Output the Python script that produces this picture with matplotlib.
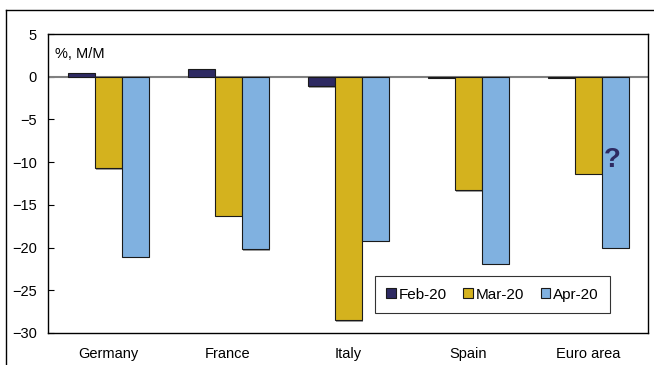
import numpy as np
import matplotlib.pyplot as plt
import matplotlib.patheffects as pe
from matplotlib.lines import Line2D

plt.rcParams['font.family'] = ['Liberation Sans', 'DejaVu Sans']

# datos
paises = ["Germany", "France", "Italy", "Spain", "Euro area"]
feb20 = [0.4, 0.9, -1.1, -0.1, -0.1]
mar20 = [-10.7, -16.3, -28.5, -13.3, -11.4]
abr20 = [-21.1, -20.2, -19.2, -21.9, -20.0]
series = ["Feb-20", "Mar-20", "Apr-20"]
colores = ["#2E2A62", "#D4B21E", "#80B1E0"]

fig = plt.figure(figsize=(6.54, 3.65), dpi=100)
ax = fig.add_axes([48/654, 1-333/365, 600/654, 299/365])

x = np.arange(len(paises))
w = 0.225
sombra = [pe.SimplePatchShadow(offset=(1, -1), shadow_rgbFace="#888888", alpha=0.8), pe.Normal()]
for i, (vals, c, lab) in enumerate(zip([feb20, mar20, abr20], colores, series)):
    b = ax.bar(x + (i-1)*w, vals, w, color=c, edgecolor="#1a1a1a", linewidth=0.8, label=lab, zorder=3)
    for r in b:
        r.set_path_effects(sombra)

ax.axhline(0, color="#808080", linewidth=1.5, zorder=2)

ax.set_xlim(-0.5, 4.5)
ax.set_ylim(-30, 5)
ax.set_yticks(np.arange(-30, 6, 5))
ax.set_xticks(x)
ax.set_xticklabels(paises, fontsize=10.5)
ax.tick_params(axis='x', length=0, pad=10)
ax.tick_params(axis='y', direction='in', length=4, labelsize=10.5, pad=8)
for s in ax.spines.values():
    s.set_color("black")
    s.set_linewidth(1)

ax.text(0.012, 0.955, "%, M/M", transform=ax.transAxes, fontsize=10.5, va='top')
ax.text(4.2, -9.75, "?", fontsize=20, fontweight='bold', family=['Liberation Sans'],
        color="#2E2A62", ha='center', va='center', zorder=5)

leg = ax.legend(loc='lower right', bbox_to_anchor=(0.937, 0.067), borderaxespad=0, ncol=3, fontsize=11,
                frameon=True, fancybox=False, edgecolor="black", handlelength=0.6, handleheight=0.6,
                handletextpad=0.2, columnspacing=1.1, borderpad=0.75)
leg.get_frame().set_linewidth(0.8)

# marco exterior
fig.add_artist(Line2D([6/654, 1], [1-10/365, 1-10/365], transform=fig.transFigure, color="black", linewidth=1))
fig.add_artist(Line2D([6/654, 6/654], [0, 1-10/365], transform=fig.transFigure, color="black", linewidth=1))

plt.savefig("out.png", dpi=100)
